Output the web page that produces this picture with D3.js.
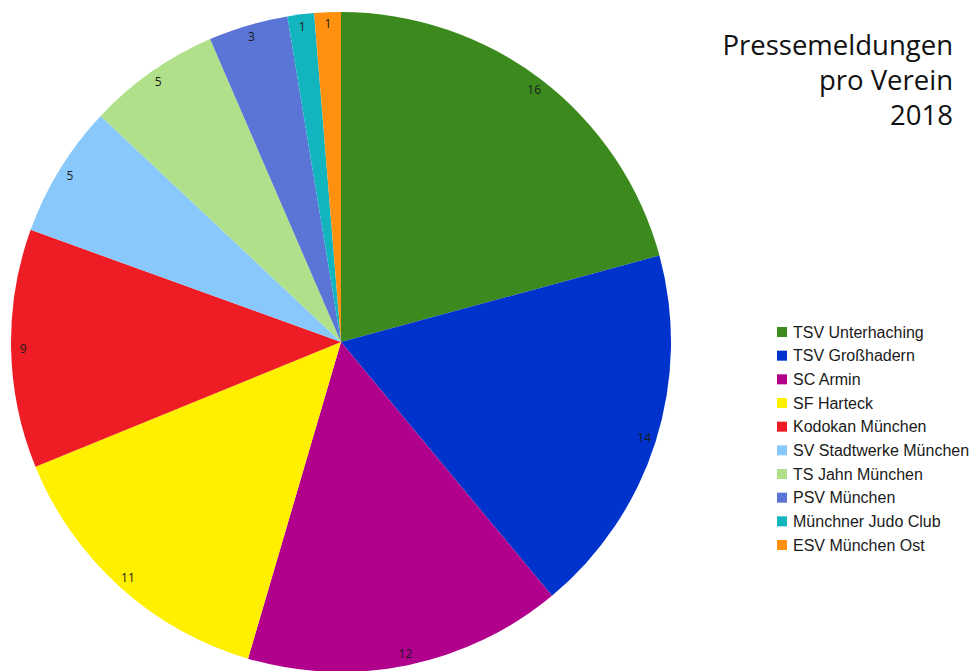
<!DOCTYPE html>
<html><head><meta charset="utf-8">
<script src="https://cdn.jsdelivr.net/npm/d3@7"></script>
<style>html,body{margin:0;padding:0;background:#fff;}</style>
</head><body>
<svg id="c" width="977" height="671"></svg>
<script>
const categories = ["TSV Unterhaching","TSV Großhadern","SC Armin","SF Harteck","Kodokan München","SV Stadtwerke München","TS Jahn München","PSV München","Münchner Judo Club","ESV München Ost"];
const values = [16,14,12,11,9,5,5,3,1,1];
const colors = ["#3c8a1e","#0033cc","#b0008c","#fff000","#ee1c25","#88c8fa","#b0e08a","#5a75d6","#12b5bd","#ff9010"];
const titleLines = ["Pressemeldungen","pro Verein","2018"];

const svg = d3.select("#c");
const cx = 341, cy = 342, R = 330;
const data = categories.map((c,i)=>({name:c, value:values[i], color:colors[i]}));
const pie = d3.pie().sort(null).value(d=>d.value);
const arcs = pie(data);
const arc = d3.arc().innerRadius(0).outerRadius(R);
const lblArc = d3.arc().innerRadius(318).outerRadius(318);
const g = svg.append("g").attr("transform",`translate(${cx},${cy})`);
g.selectAll("path").data(arcs).join("path").attr("d",arc).attr("fill",d=>d.data.color);
g.selectAll("text").data(arcs).join("text")
  .attr("transform",d=>`translate(${lblArc.centroid(d)})`)
  .attr("text-anchor","middle").attr("dy","0.35em")
  .attr("font-family","Open Sans, Liberation Sans, sans-serif").attr("font-size",12).attr("fill","#1a1a1a")
  .text(d=>d.data.value);

svg.append("g").selectAll("text").data(titleLines).join("text")
  .attr("x",953).attr("y",(d,i)=>55+i*35).attr("text-anchor","end")
  .attr("font-family","Open Sans, sans-serif").attr("font-size",27.5).attr("fill","#111")
  .text(d=>d);

const ly = d3.scalePoint().domain(categories).range([332,545]);
const lg = svg.append("g");
lg.selectAll("rect").data(data).join("rect")
  .attr("x",777).attr("y",d=>ly(d.name)-5).attr("width",10).attr("height",10).attr("fill",d=>d.color);
lg.selectAll("text").data(data).join("text")
  .attr("x",793).attr("y",d=>ly(d.name)).attr("dy","0.35em")
  .attr("font-family","Liberation Sans, Arial, sans-serif").attr("font-size",16).attr("fill","#1a1a1a")
  .text(d=>d.name);
</script>
</body></html>
